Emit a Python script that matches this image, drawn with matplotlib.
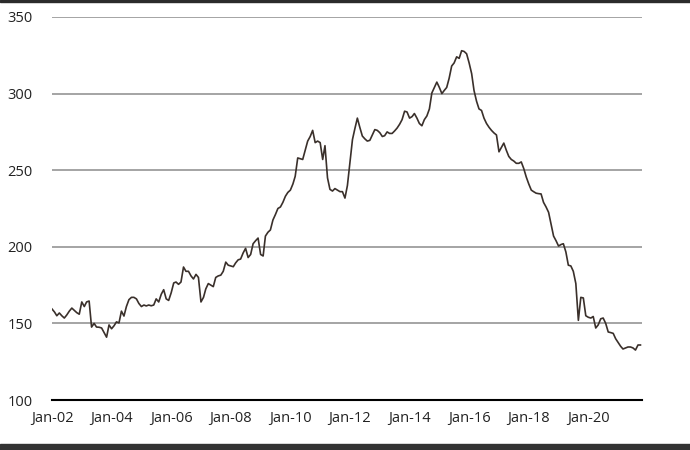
import matplotlib
matplotlib.use("Agg")
import matplotlib.pyplot as plt
import matplotlib.dates as mdates
import pandas as pd
from matplotlib.patches import Rectangle

start_month = "2002-01"
values = [
    159.4, 157.4, 155.0, 156.8, 155.0, 153.5, 155.5, 158.0, 160.0, 158.5, 157.0, 156.0,
    164.0, 161.0, 164.0, 164.6, 147.6, 150.0, 147.6, 147.5, 147.0, 144.0, 141.0, 149.0,
    146.5, 148.5, 151.0, 150.3, 158.0, 154.8, 161.0, 165.5, 167.0, 167.0, 166.0, 163.0,
    161.0, 162.0, 161.4, 162.0, 161.5, 162.0, 166.0, 164.0, 169.0, 172.0, 166.0, 165.0,
    170.0, 176.4, 177.0, 175.5, 177.0, 186.8, 184.0, 184.0, 181.0, 179.0, 182.0, 180.0,
    164.0, 167.0, 172.5, 176.0, 175.0, 174.0, 180.0, 181.0, 181.5, 184.0, 190.0, 188.0,
    187.5, 187.0, 189.5, 191.5, 192.0, 196.0, 199.0, 193.0, 195.0, 202.0, 204.0, 205.7,
    195.0, 194.0, 207.0, 209.5, 211.0, 217.5, 221.0, 225.0, 226.0, 229.0, 233.0, 235.5,
    237.0, 241.0, 246.0, 258.0, 257.5, 257.0, 263.0, 269.0, 272.0, 276.0, 268.0, 269.0,
    268.0, 257.0, 266.0, 245.0, 237.5, 236.4, 238.0, 237.0, 236.0, 236.0, 231.8, 240.0,
    255.0, 270.0, 277.0, 284.0, 278.0, 272.3, 270.5, 269.0, 269.5, 273.0, 276.5, 276.0,
    274.5, 272.0, 272.5, 275.0, 274.0, 274.0, 275.6, 277.5, 280.0, 283.0, 288.5, 288.0,
    284.0, 285.0, 287.0, 284.0, 280.5, 279.0, 283.0, 285.4, 290.0, 300.4, 304.0, 307.5,
    304.0, 300.0, 302.0, 304.0, 310.0, 318.0, 320.0, 324.0, 323.0, 328.0, 327.5, 326.0,
    320.0, 313.0, 302.0, 295.0, 290.0, 289.0, 284.0, 280.5, 278.0, 276.0, 274.3, 273.0,
    262.0, 265.0, 267.7, 263.0, 259.0, 257.0, 256.0, 254.5, 254.5, 255.4, 251.0, 245.6,
    241.0, 237.0, 236.0, 235.0, 234.7, 234.5, 229.0, 226.0, 222.5, 215.0, 207.0, 204.0,
    200.5, 201.5, 202.0, 196.6, 188.0, 187.5, 184.0, 176.0, 152.0, 167.0, 166.6, 155.0,
    154.0, 153.5, 154.5, 147.0, 149.0, 153.0, 153.5, 150.0, 144.4, 144.0, 143.5, 140.0,
    137.5, 135.0, 133.3, 134.0, 134.6, 134.6, 134.0, 132.6, 135.9, 135.9,
]
y_ticks = [100, 150, 200, 250, 300, 350]
x_tick_years = [2002, 2004, 2006, 2008, 2010, 2012, 2014, 2016, 2018, 2020]

dates = pd.date_range(start=start_month, periods=len(values), freq="MS")

plt.rcParams['font.family'] = ['Open Sans', 'DejaVu Sans']

fig = plt.figure(figsize=(6.9, 4.5), dpi=100)
ax = fig.add_axes([52/690, 1 - 400/450, (642 - 52)/690, (400 - 17)/450])

ax.plot(dates, values, color='#3a302b', linewidth=1.2, zorder=3)

ax.set_ylim(100, 350)
ax.set_yticks(y_ticks)
ax.set_xlim(pd.Timestamp("2002-01-01"), pd.Timestamp("2021-10-20"))
ax.set_xticks([pd.Timestamp(f"{y}-01-01") for y in x_tick_years])
ax.xaxis.set_major_formatter(mdates.DateFormatter("%b-%y"))

ax.grid(axis='y', color='#8c8c8c', linewidth=1.1, zorder=1)
ax.grid(axis='x', visible=False)
for s in ['top', 'right', 'left']:
    ax.spines[s].set_visible(False)
ax.spines['bottom'].set_color('black')
ax.spines['bottom'].set_linewidth(1.5)
ax.spines['bottom'].set_zorder(4)

ax.tick_params(axis='both', length=0, labelsize=10.5, colors='#222222')
ax.tick_params(axis='y', pad=14)
ax.tick_params(axis='x', pad=8)

# frame decorations
fig.patches.append(Rectangle((0, 1 - 2/450), 1, 2/450, transform=fig.transFigure,
                             color='#2b2b2b', zorder=0))
fig.patches.append(Rectangle((0, 0), 1, 6/450, transform=fig.transFigure,
                             color='#333333', zorder=0))

fig.savefig("out.png", dpi=100)
